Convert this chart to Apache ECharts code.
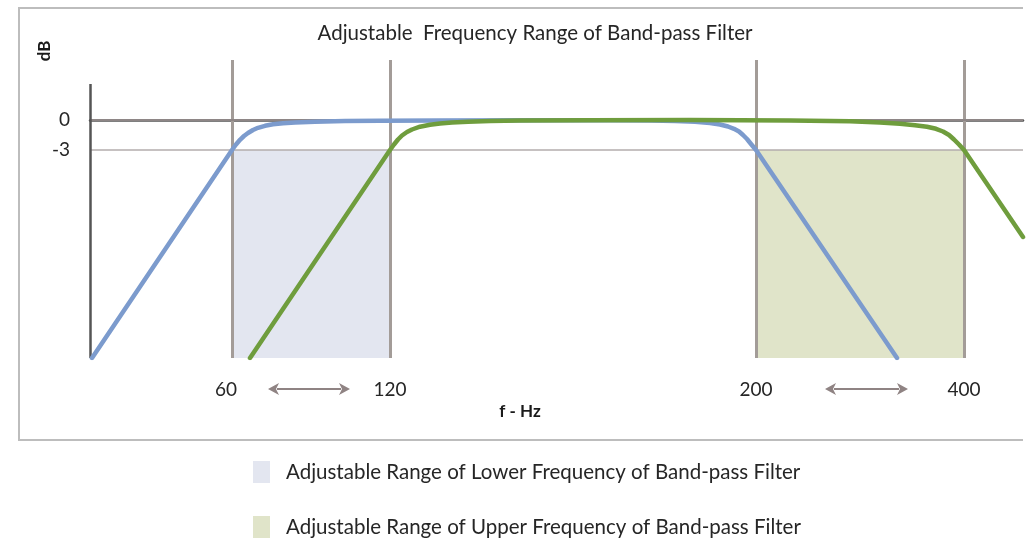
<!DOCTYPE html>
<html>
<head>
<meta charset="utf-8">
<script src="https://cdn.jsdelivr.net/npm/echarts@6/dist/echarts.min.js"></script>
<style>html,body{margin:0;padding:0;background:#fff;}#c{width:1035px;height:542px;}</style>
</head>
<body>
<div id="c"></div>
<script>
// schematic x position units (0..933) and dB values
var lowCutCurve = [[2,-23.8],[142,-3],[146,-2.45],[150,-1.98],[154,-1.6],[158,-1.3],[163,-1.0],[168,-0.78],[175,-0.58],[183,-0.43],[193,-0.32],[205,-0.24],[225,-0.17],[255,-0.11],[290,-0.07],[350,-0.04],[450,-0.02],[520,-0.03],[560,-0.05],[585,-0.09],[605,-0.17],[620,-0.3],[630,-0.45],[638,-0.65],[644,-0.88],[649,-1.15],[653,-1.5],[657,-1.9],[661,-2.4],[666,-3],[807,-23.8]];
var highCutCurve = [[160,-23.8],[300,-3],[304,-2.45],[308,-1.95],[312,-1.55],[317,-1.2],[322,-0.95],[330,-0.67],[340,-0.47],[350,-0.34],[362,-0.25],[378,-0.18],[400,-0.11],[430,-0.06],[500,-0.02],[600,0],[700,-0.04],[760,-0.12],[790,-0.24],[810,-0.38],[825,-0.52],[837,-0.67],[846,-0.88],[853,-1.15],[859,-1.5],[864,-1.95],[869,-2.45],[874,-3],[933,-11.7]];
var freqPositions = [142, 300, 666, 874];
var freqLabels = ['60', '120', '200', '400'];
var dbLevels = [0, -3];
var dbLabels = ['0', '-3'];
var lowerRange = [142, 300];
var upperRange = [666, 874];
var lowerArrow = [178, 260];
var upperArrow = [735, 818];
var legendNames = ['Adjustable Range of Lower Frequency of Band-pass Filter', 'Adjustable Range of Upper Frequency of Band-pass Filter'];

var Y_MIN = -23.8, Y_MAX = 6, Y_AXIS_TOP = 3.6, ARROW_Y = -26.9;
var FONT = 'Lato';

var vLines = freqPositions.map(function (p, i) {
  return {
    xAxis: p,
    label: { formatter: freqLabels[i], padding: i === 0 ? [0, 12, 0, 0] : [0, 0, 0, 0] }
  };
});
var hLines = dbLevels.map(function (v, i) {
  return {
    yAxis: v,
    label: { formatter: dbLabels[i] },
    lineStyle: i === 0 ? { color: '#8e8686', width: 2, type: 'solid' } : { color: '#b3adad', width: 1.5, type: 'solid' }
  };
});

var chart = echarts.init(document.getElementById('c'));
chart.setOption({
  backgroundColor: '#fff',
  animation: false,
  title: {
    text: 'Adjustable  Frequency Range of Band-pass Filter',
    left: 530, top: 18, textAlign: 'center',
    textStyle: { fontFamily: FONT, fontSize: 20.5, fontWeight: 'normal', color: '#262626' }
  },
  grid: { left: 90, right: 12, top: 60, height: 298 },
  xAxis: {
    type: 'value', min: 0, max: 933,
    axisLine: { show: true, lineStyle: { color: '#555', width: 2.5 } },
    axisTick: { show: false }, axisLabel: { show: false }, splitLine: { show: false }
  },
  yAxis: {
    type: 'value', min: Y_MIN, max: Y_MAX,
    axisLine: { show: false }, axisTick: { show: false }, axisLabel: { show: false }, splitLine: { show: false }
  },
  legend: {
    orient: 'vertical', left: 253, top: 461, padding: 0,
    icon: 'rect', itemWidth: 17, itemHeight: 22, itemGap: 33,
    selectedMode: false,
    data: legendNames,
    textStyle: { fontFamily: FONT, fontSize: 20.5, color: '#262626', padding: [0, 0, 0, 11] }
  },
  series: [
    {
      name: legendNames[0], type: 'line', data: [], z: 1,
      itemStyle: { color: '#e3e6f0' }, lineStyle: { color: '#e3e6f0' },
      markArea: {
        silent: true,
        itemStyle: { color: '#e3e6f0' },
        data: [[{ xAxis: lowerRange[0], yAxis: -3 }, { xAxis: lowerRange[1], yAxis: Y_MIN }]]
      }
    },
    {
      name: legendNames[1], type: 'line', data: [], z: 1,
      itemStyle: { color: '#e0e4c9' }, lineStyle: { color: '#e0e4c9' },
      markArea: {
        silent: true,
        itemStyle: { color: '#e0e4c9' },
        data: [[{ xAxis: upperRange[0], yAxis: -3 }, { xAxis: upperRange[1], yAxis: Y_MIN }]]
      }
    },
    {
      name: 'grid lines', type: 'line', data: [], z: 2, clip: false,
      markLine: {
        silent: true, symbol: 'none', animation: false,
        lineStyle: { color: '#a39c98', width: 3, type: 'solid' },
        label: { position: 'start', distance: 22, fontFamily: FONT, fontSize: 19, color: '#262626' },
        data: vLines
      }
    },
    {
      name: 'level lines', type: 'line', data: [], z: 2, clip: false,
      markLine: {
        silent: true, symbol: 'none', animation: false,
        label: { position: 'start', distance: 20, fontFamily: FONT, fontSize: 19, color: '#262626' },
        data: hLines
      }
    },
    {
      name: 'y axis', type: 'line', data: [], z: 3, clip: false,
      markLine: {
        silent: true, animation: false, symbol: 'none',
        label: { show: false },
        lineStyle: { color: '#555', width: 2.5, type: 'solid' },
        data: [[{ coord: [0, Y_MIN] }, { coord: [0, Y_AXIS_TOP] }]]
      }
    },
    {
      name: 'low cut', type: 'line', data: lowCutCurve, z: 5,
      smooth: false, symbol: 'none',
      lineStyle: { color: '#7c9bcd', width: 4.5, cap: 'round', join: 'round' }
    },
    {
      name: 'high cut', type: 'line', data: highCutCurve, z: 6,
      smooth: false, symbol: 'none',
      lineStyle: { color: '#6f9d3d', width: 4.5, cap: 'round', join: 'round' }
    }
  ]
});

// arrows below the axis, placed through the chart's own scales
function arrowGraphic(range) {
  var a = chart.convertToPixel({ gridIndex: 0 }, [range[0], ARROW_Y]);
  var b = chart.convertToPixel({ gridIndex: 0 }, [range[1], ARROW_Y]);
  var h = 6, w = 11;
  return [
    { type: 'line', silent: true, shape: { x1: a[0] + w - 2, y1: a[1], x2: b[0] - w + 2, y2: b[1] }, style: { stroke: '#8f8383', lineWidth: 2 } },
    { type: 'polygon', silent: true, shape: { points: [[a[0], a[1]], [a[0] + w, a[1] - h], [a[0] + w - 3, a[1]], [a[0] + w, a[1] + h]] }, style: { fill: '#8f8383' } },
    { type: 'polygon', silent: true, shape: { points: [[b[0], b[1]], [b[0] - w, b[1] - h], [b[0] - w + 3, b[1]], [b[0] - w, b[1] + h]] }, style: { fill: '#8f8383' } }
  ];
}
var graphics = [
  { type: 'polyline', silent: true, z: 0,
    shape: { points: [[1023, 8], [19, 8], [19, 440], [1023, 440]] },
    style: { stroke: '#bdbdbd', lineWidth: 2, fill: null } },
  { type: 'text', x: 45, y: 51, rotation: Math.PI / 2, silent: true,
    style: { text: 'dB', fontFamily: FONT, fontSize: 17, fontWeight: 'bold', fill: '#1a1a1a', align: 'center', verticalAlign: 'middle' } },
  { type: 'text', x: 520, y: 412, silent: true,
    style: { text: 'f - Hz', fontFamily: FONT, fontSize: 17, fontWeight: 'bold', fill: '#1a1a1a', align: 'center', verticalAlign: 'middle' } }
].concat(arrowGraphic(lowerArrow), arrowGraphic(upperArrow));
chart.setOption({ graphic: graphics });
</script>
</body>
</html>
